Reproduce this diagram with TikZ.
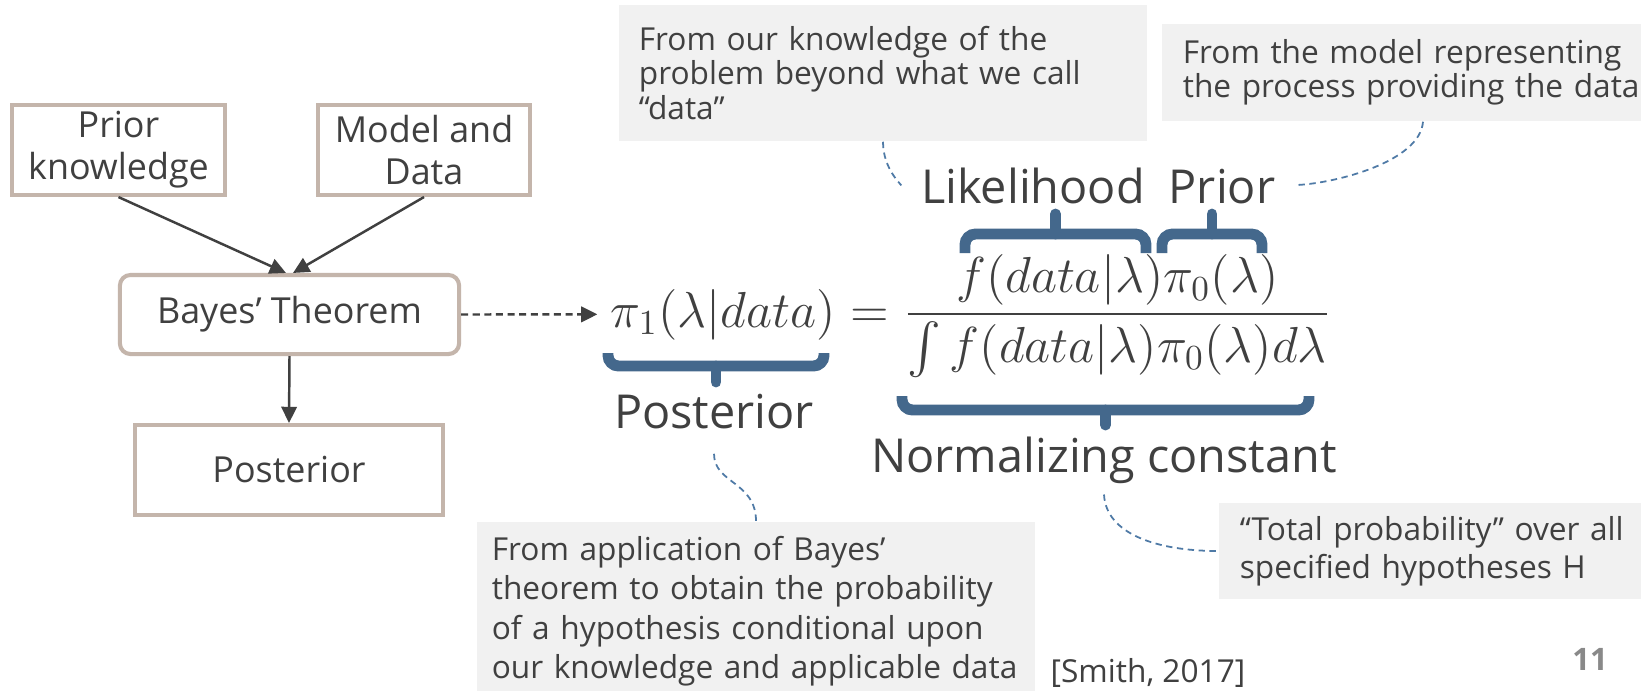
\documentclass[tikz,border=0pt]{standalone}
\usepackage{amsmath}
\usepackage{fontspec}
\setmainfont{Open Sans}
\usepackage{tikz}
\usetikzlibrary{arrows.meta}
\definecolor{inkgray}{RGB}{64,64,64}
\definecolor{boxline}{RGB}{196,181,171}
\definecolor{notefill}{RGB}{241,241,241}
\definecolor{bracecol}{RGB}{68,104,140}
\definecolor{linkblue}{RGB}{79,122,166}
\definecolor{pagegray}{RGB}{137,137,137}
\DeclareRobustCommand{\notefont}[1]{\fontsize{9}{#1}\selectfont\lineskiplimit=-10pt\relax}
\tikzset{
  block/.style={draw=boxline, line width=1.15pt, fill=white, text=inkgray, align=center, inner sep=0pt, font=\fontsize{10.2}{12}\selectfont},
  flow/.style={draw=inkgray, line width=0.7pt, -{Triangle[length=4.6pt,width=4.4pt]}},
  note/.style={fill=notefill, text=inkgray, align=left, inner sep=0pt, font=\notefont{9.8pt}},
  term/.style={text=inkgray, inner sep=0pt, font=\fontsize{13.3}{16}\selectfont},
  eqn/.style={text=inkgray, inner sep=0pt, font=\fontsize{14.4}{17}\selectfont},
  link/.style={draw=linkblue, line width=0.5pt, dash pattern=on 1.8pt off 1.3pt},
  brc/.style={draw=bracecol, line width=3.1pt}
}
\newcommand{\pbrace}[5]{\draw[brc, rounded corners=3pt] ( #1 , #3 ) -- ( #1 , #4 ) -- ( #2 , #4 ) -- ( #2 , #3 ); \draw[brc, line cap=round] ( #1 * 0.5 + #2 * 0.5 , #4 ) -- ( #1 * 0.5 + #2 * 0.5 , #5 );}

\begin{document}
\begin{tikzpicture}[x=0.01cm, y=-0.01cm]
        \useasboundingbox (0,0) rectangle (1641,690);
        \fill[white] (0,0) rectangle (1641,690);
        % flow chart
        \node[block, minimum width=2.13cm, minimum height=0.9cm] (prior) at (118.5,150) {Prior\\knowledge};
        \node[block, minimum width=2.12cm, minimum height=0.9cm] (model) at (424,150) {Model and\\Data};
        \node[block, rounded corners=3pt, minimum width=3.39cm, minimum height=0.79cm] (bayes) at (289.5,314.5) {Bayes’ Theorem};
        \node[block, minimum width=3.08cm, minimum height=0.9cm] (post) at (289,470) {Posterior};
        \draw[flow] (prior.south) -- ([xshift=-1pt]bayes.north);
        \draw[flow] (model.south) -- ([xshift=1pt]bayes.north);
        \draw[flow] (bayes.south) -- (post.north);
        % equation
        \node[eqn, anchor=base west] (lhs) at (610,327) {$\pi_1(\lambda|data)$};
        \node[eqn, anchor=base west] (rhs) at (lhs.base east) {$\displaystyle {}= \frac{f(data|\lambda)\pi_0(\lambda)}{\int f(data|\lambda)\pi_0(\lambda)d\lambda}$};
        \draw[flow, dash pattern=on 2pt off 1.3pt, shorten >=3.6pt] (bayes.east) -- (lhs.west);
        % braces
        \pbrace{965}{1146}{253}{234}{214}
        \pbrace{1162}{1262}{253}{234}{214}
        \pbrace{608}{824}{353}{366}{382}
        \pbrace{902}{1309}{396}{410}{425}
        \node[term, anchor=base] (likeli) at (1033,203) {Likelihood};
        \node[term, anchor=base] (priorlab) at (1222,203) {Prior};
        \node[term, anchor=base] (postlab) at (714,428) {Posterior};
        \node[term, anchor=base] (normlab) at (1104,472) {Normalizing constant};
        % notes
        \node[note, minimum width=5.28cm, minimum height=1.36cm, text width=4.88cm] (likenote) at (883,73) {From our knowledge of the\\problem beyond what we call\\“data”};
        \node[note, minimum width=5.22cm, minimum height=0.97cm, text width=4.8cm] (priornote) at (1423,72.5) {From the model representing\\the process providing the data};
        \node[note, minimum width=5.58cm, minimum height=1.78cm, text width=5.28cm, font=\notefont{11.2pt}] (postnote) at (756,611) {From application of Bayes’\\theorem to obtain the probability\\of a hypothesis conditional upon\\our knowledge and applicable data};
        \node[note, minimum width=4.41cm, minimum height=0.96cm, text width=3.99cm, font=\notefont{10.8pt}] (normnote) at (1439.5,551) {“Total probability” over all\\specified hypotheses H};
        \draw[link, shorten >=5.5pt] (likenote.south) .. controls +(0,28) and +(-18,0) .. (likeli.west);
        \draw[link, shorten >=6pt] (priornote.south) .. controls +(-3,40) and +(60,-3) .. (priorlab.east);
        \draw[link] ([yshift=-7pt]postlab.south) .. controls +(0,30) and +(0,-40) .. (postnote.north);
        \draw[link] ([yshift=-3pt]normlab.south) .. controls +(2,40) and +(-60,0) .. (normnote.west);
        % source and page
        \node[text=inkgray, inner sep=0pt, font=\fontsize{9}{11}\selectfont] (cite) at (1148,673) {[Smith, 2017]};
        \node[text=pagegray, inner sep=0pt, font=\fontsize{8.8}{10}\selectfont\bfseries] (pagenum) at (1590,659) {11};
\end{tikzpicture}
\end{document}
